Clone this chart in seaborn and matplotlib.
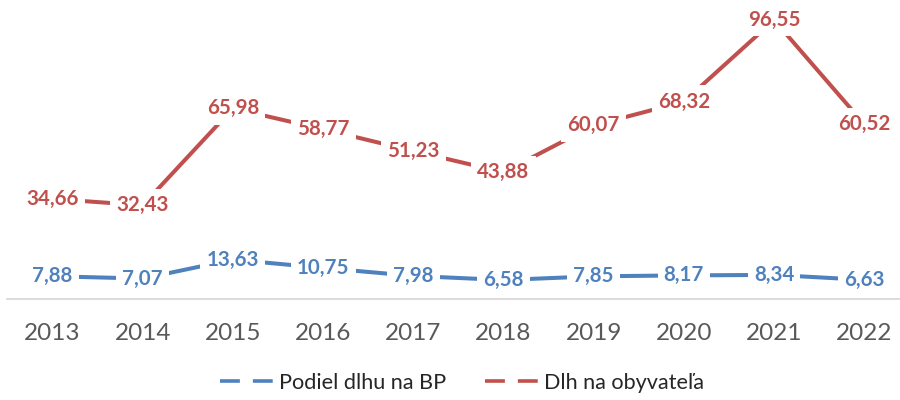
import matplotlib
matplotlib.use("Agg")
import matplotlib.pyplot as plt
from matplotlib.lines import Line2D
import seaborn as sns
import pandas as pd

years = ["2013", "2014", "2015", "2016", "2017", "2018", "2019", "2020", "2021", "2022"]
podiel = [7.88, 7.07, 13.63, 10.75, 7.98, 6.58, 7.85, 8.17, 8.34, 6.63]
dlh = [34.66, 32.43, 65.98, 58.77, 51.23, 43.88, 60.07, 68.32, 96.55, 60.52]
series_names = ["Podiel dlhu na BP", "Dlh na obyvateľa"]

BLUE = "#4F81BD"
RED = "#C0504D"

sns.set_theme(style="white")
plt.rcParams["font.family"] = ["Lato", "DejaVu Sans"]

fig = plt.figure(figsize=(9, 4), dpi=100)
ax = fig.add_axes([7.4 / 900, 101 / 400, (900 - 7.4) / 900, 299 / 400])

idx = list(range(len(years)))
df = pd.DataFrame({"x": idx * 2,
                   "y": podiel + dlh,
                   "s": [series_names[0]] * len(years) + [series_names[1]] * len(years)})

sns.lineplot(data=df, x="x", y="y", hue="s", palette=[BLUE, RED], linewidth=2.9,
             ax=ax, legend=False)

def fmt(v):
    return f"{v:.2f}".replace(".", ",")

for vals, col in [(podiel, BLUE), (dlh, RED)]:
    for i, v in zip(idx, vals):
        ax.text(i, v, fmt(v), ha="center", va="center", color=col, fontsize=14.8,
                fontweight="bold", zorder=5, clip_on=False,
                bbox=dict(boxstyle="square,pad=0.3", fc="white", ec="none"))

ax.set_xlim(-0.5, 9.396)
ax.set_ylim(0, 103.5)
ax.set_xticks(idx)
ax.set_xticklabels(years, fontsize=17.5, color="#595959")
ax.set_yticks([])
ax.set_xlabel("")
ax.set_ylabel("")
ax.tick_params(axis="x", length=0, pad=17)
for s in ["top", "left", "right"]:
    ax.spines[s].set_visible(False)
ax.spines["bottom"].set_color("#D9D9D9")
ax.spines["bottom"].set_linewidth(1.3)
ax.spines["bottom"].set_zorder(1)

handles = [Line2D([0], [0], color=BLUE, linewidth=2.6, dashes=(5.5, 3.6)),
           Line2D([0], [0], color=RED, linewidth=2.6, dashes=(5.5, 3.6))]
leg = fig.legend(handles, series_names, loc="center", bbox_to_anchor=(462 / 900, 1 - 383 / 400),
                 ncol=2, frameon=False, fontsize=15.6, handlelength=2.45, handletextpad=0.28,
                 columnspacing=1.75)
for t in leg.get_texts():
    t.set_color("#262626")

fig.savefig("out.png", dpi=100)
